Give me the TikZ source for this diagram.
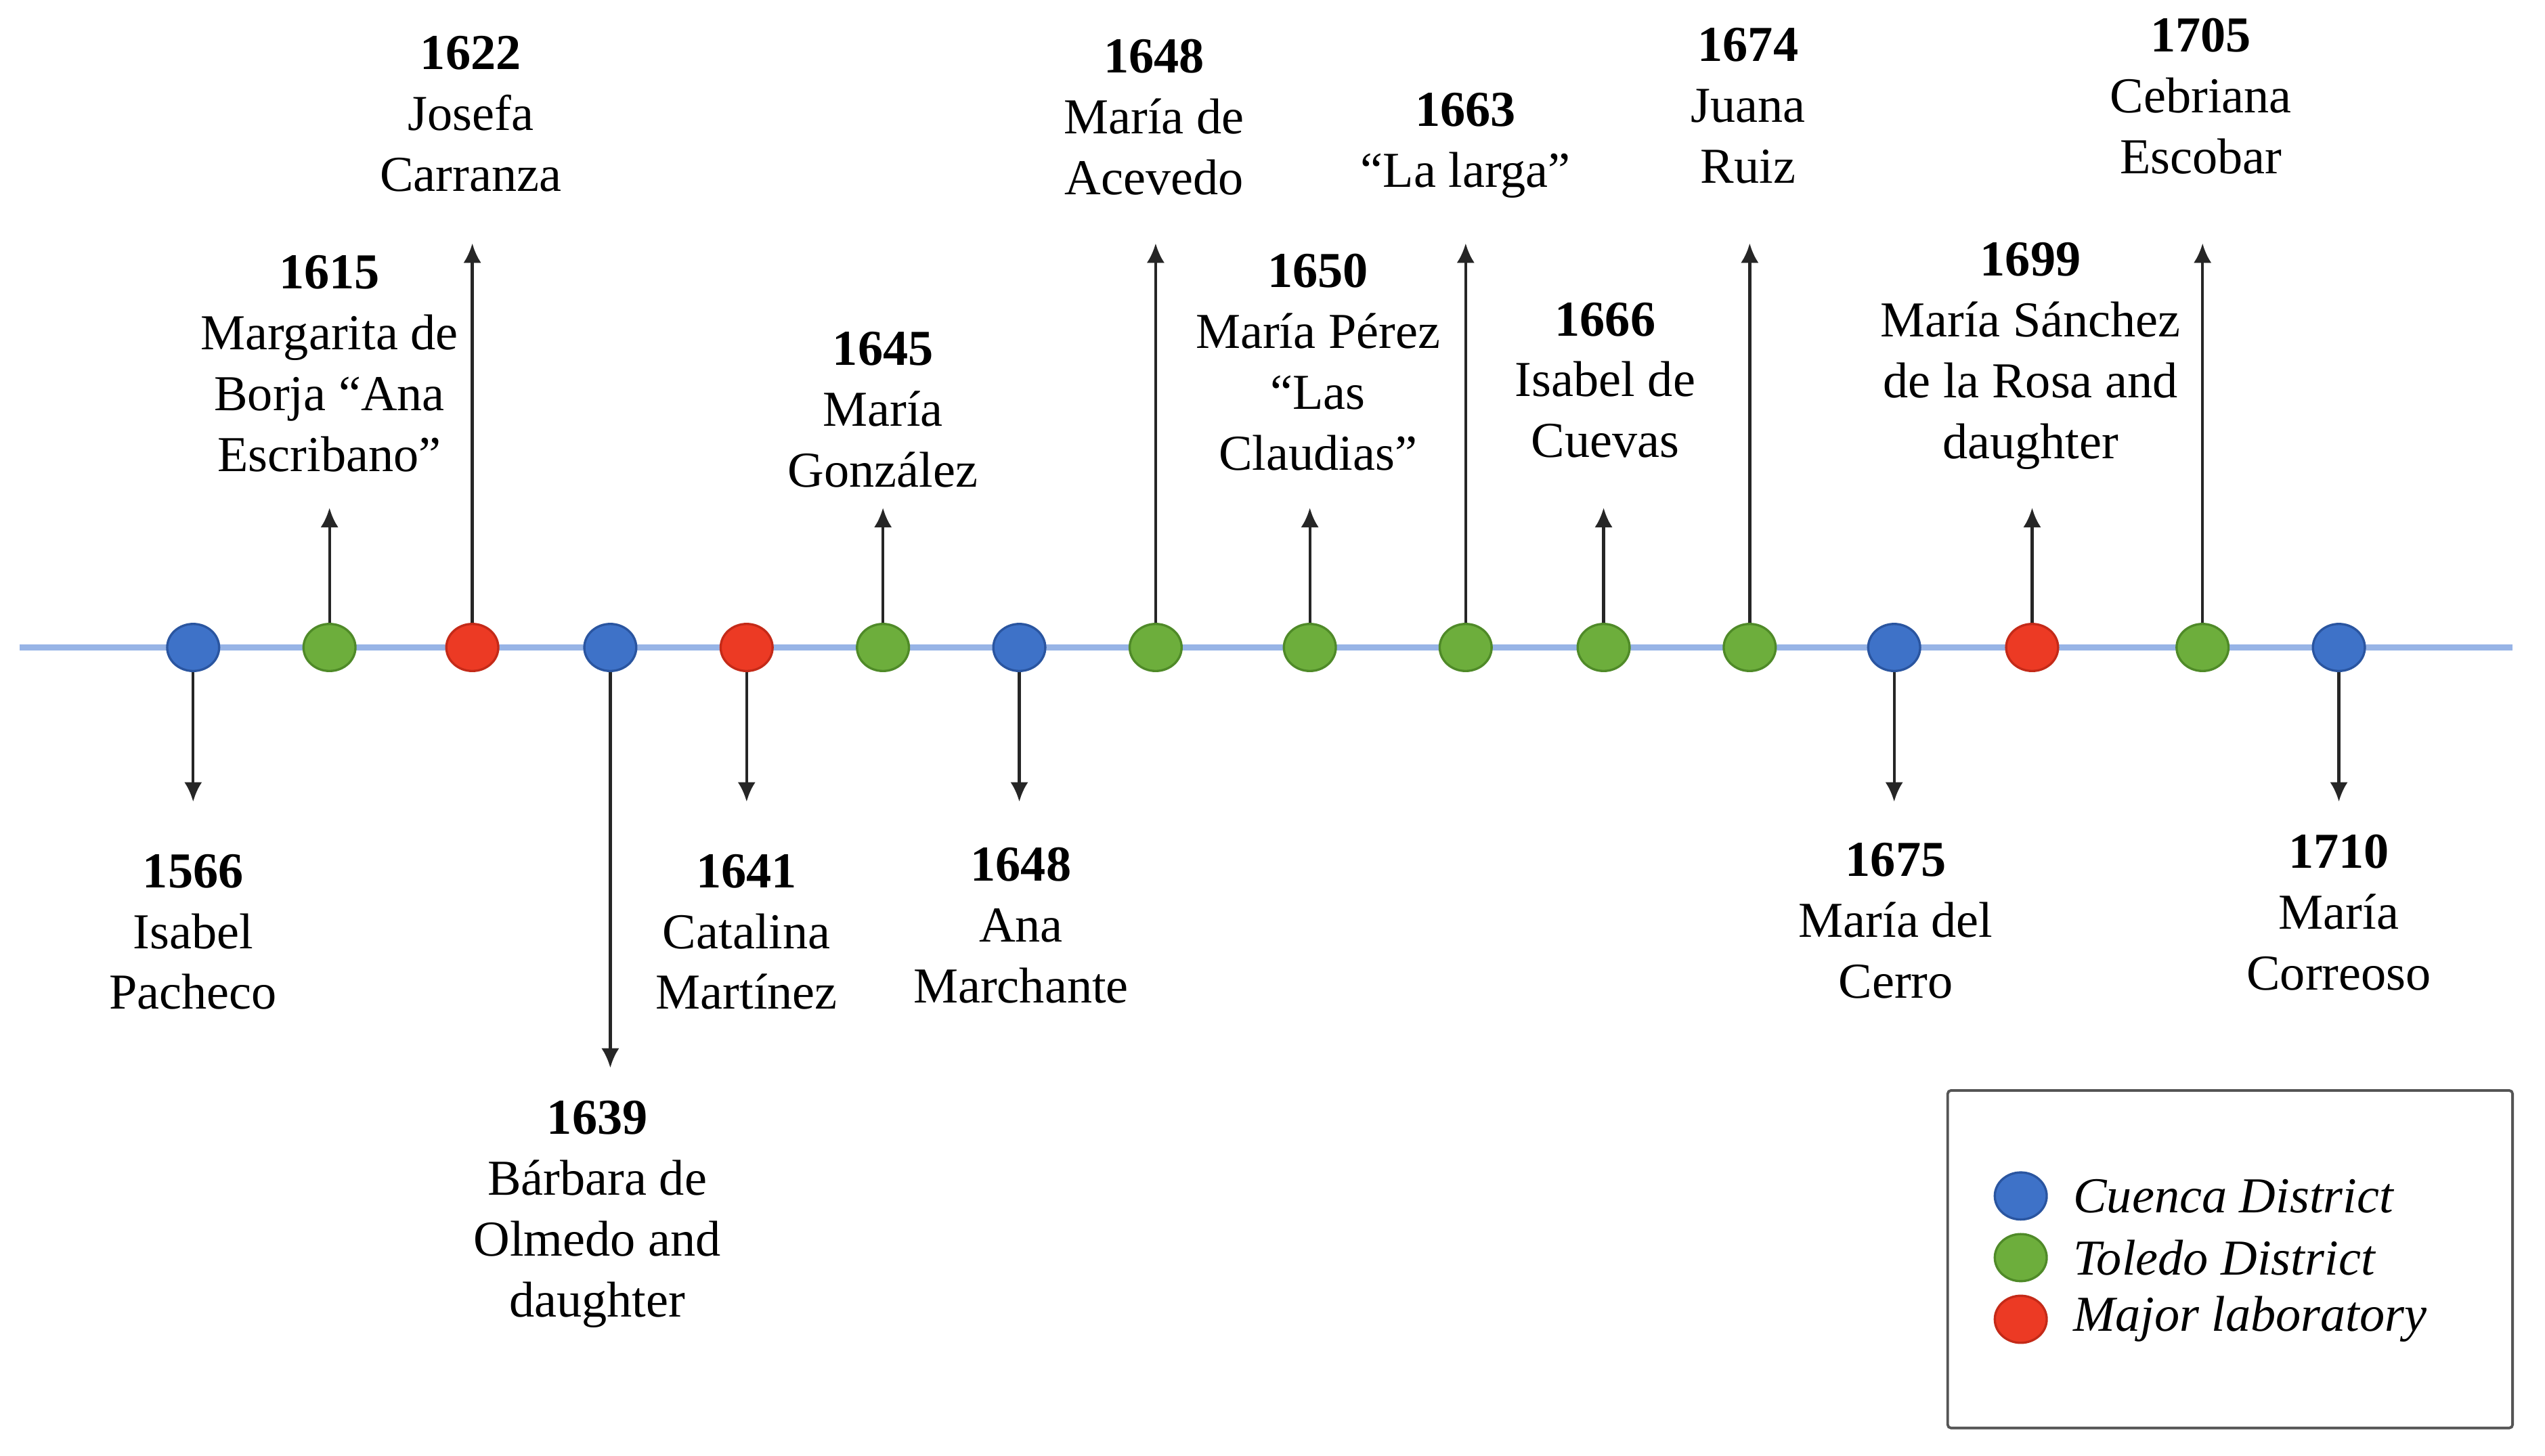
\documentclass[tikz,border=0pt]{standalone}
\usepackage{fontspec}
\setmainfont{Liberation Serif}
\usetikzlibrary{arrows.meta,shapes.geometric}
\definecolor{cblue}{HTML}{3E72C8}
\definecolor{cblueE}{HTML}{2A55A0}
\definecolor{cgreen}{HTML}{6DAE3C}
\definecolor{cgreenE}{HTML}{4F8A28}
\definecolor{cred}{HTML}{EC3A24}
\definecolor{credE}{HTML}{C42A18}
\definecolor{tline}{HTML}{97B4E6}
\definecolor{frame}{HTML}{555555}
\tikzset{
  dot/.style={ellipse, inner sep=0pt, minimum width=16pt, minimum height=14.5pt, line width=0.7pt},
  bdot/.style={dot, fill=cblue, draw=cblueE},
  gdot/.style={dot, fill=cgreen, draw=cgreenE},
  rdot/.style={dot, fill=cred, draw=credE},
  stem/.style={draw=black!85, line width=0.9pt, -{Latex[length=6pt,width=5.5pt]}},
  timeline/.style={draw=tline, line width=1.9pt},
  lbl/.style={align=center, inner sep=0pt, anchor=north, font=\fontsize{15.5}{18.75}\selectfont},
  legtxt/.style={anchor=west, inner sep=0pt, font=\fontsize{15.5}{18.75}\selectfont\itshape},
  legframe/.style={draw=frame, line width=0.8pt, rounded corners=1pt, inner sep=0pt, minimum width=174pt, minimum height=104pt}
}
\begin{document}
\begin{tikzpicture}[x=0.5pt,y=-0.5pt]
\useasboundingbox (0,0) rectangle (1568,897);
\fill[white] (0,0) rectangle (1568,897);
% timeline
\coordinate (tlL) at (12,399);
\coordinate (tlR) at (1548,399);
\draw[timeline] (tlL) -- (tlR);
% dots
\node[bdot] (d1)  at (119,399) {};
\node[gdot] (d2)  at (203,399) {};
\node[rdot] (d3)  at (291,399) {};
\node[bdot] (d4)  at (376,399) {};
\node[rdot] (d5)  at (460,399) {};
\node[gdot] (d6)  at (544,399) {};
\node[bdot] (d7)  at (628,399) {};
\node[gdot] (d8)  at (712,399) {};
\node[gdot] (d9)  at (807,399) {};
\node[gdot] (d10) at (903,399) {};
\node[gdot] (d11) at (988,399) {};
\node[gdot] (d12) at (1078,399) {};
\node[bdot] (d13) at (1167,399) {};
\node[rdot] (d14) at (1252,399) {};
\node[gdot] (d15) at (1357,399) {};
\node[bdot] (d16) at (1441,399) {};
% stem ends
\coordinate (t1)  at (119,494);
\coordinate (t2)  at (203,313);
\coordinate (t3)  at (291,150);
\coordinate (t4)  at (376,658);
\coordinate (t5)  at (460,494);
\coordinate (t6)  at (544,313);
\coordinate (t7)  at (628,494);
\coordinate (t8)  at (712,150);
\coordinate (t9)  at (807,313);
\coordinate (t10) at (903,150);
\coordinate (t11) at (988,313);
\coordinate (t12) at (1078,150);
\coordinate (t13) at (1167,494);
\coordinate (t14) at (1252,313);
\coordinate (t15) at (1357,150);
\coordinate (t16) at (1441,494);
\foreach \i in {1,...,16} { \draw[stem] (d\i) -- (t\i); }
% labels
\node[lbl] (l1)  at (119,526) {\textbf{1566}\\Isabel\\Pacheco};
\node[lbl] (l2)  at (203,157) {\textbf{1615}\\Margarita de\\Borja “Ana\\Escribano”};
\node[lbl] (l3)  at (290,22)  {\textbf{1622}\\Josefa\\Carranza};
\node[lbl] (l4)  at (368,678) {\textbf{1639}\\Bárbara de\\Olmedo and\\daughter};
\node[lbl] (l5)  at (460,526) {\textbf{1641}\\Catalina\\Martínez};
\node[lbl] (l6)  at (544,204) {\textbf{1645}\\María\\González};
\node[lbl] (l7)  at (629,522) {\textbf{1648}\\Ana\\Marchante};
\node[lbl] (l8)  at (711,24)  {\textbf{1648}\\María de\\Acevedo};
\node[lbl] (l9)  at (812,156) {\textbf{1650}\\María Pérez\\“Las\\Claudias”};
\node[lbl] (l10) at (903,57)  {\textbf{1663}\\“La larga”};
\node[lbl] (l11) at (989,186) {\textbf{1666}\\Isabel de\\Cuevas};
\node[lbl] (l12) at (1077,17) {\textbf{1674}\\Juana\\Ruiz};
\node[lbl] (l13) at (1168,519) {\textbf{1675}\\María del\\Cerro};
\node[lbl] (l14) at (1251,149) {\textbf{1699}\\María Sánchez\\de la Rosa and\\daughter};
\node[lbl] (l15) at (1356,11) {\textbf{1705}\\Cebriana\\Escobar};
\node[lbl] (l16) at (1441,514) {\textbf{1710}\\María\\Correoso};
% legend
\node[legframe] (legend) at (1374,776) {};
\node[bdot] (k1) at (1245,737) {};
\node[gdot] (k2) at (1245,775) {};
\node[rdot] (k3) at (1245,813) {};
\node[legtxt] (k1t) at (1277,737) {Cuenca District};
\node[legtxt] (k2t) at (1277,775) {Toledo District};
\node[legtxt] (k3t) at (1277,813) {Major laboratory};
\end{tikzpicture}
\end{document}
